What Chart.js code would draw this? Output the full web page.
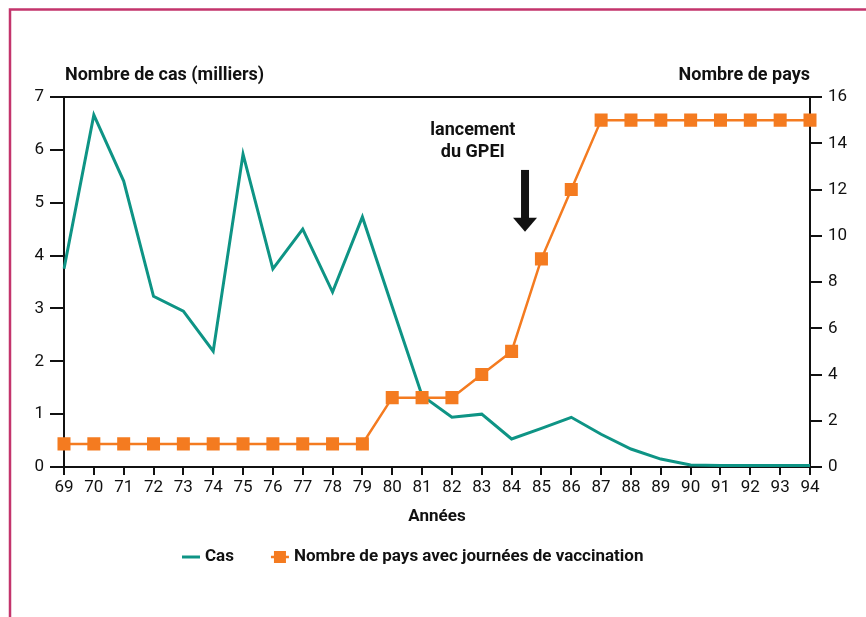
<!DOCTYPE html>
<html><head><meta charset="utf-8">
<script src="https://cdn.jsdelivr.net/npm/chart.js@4"></script>
<style>html,body{margin:0;padding:0;background:#fff}#wrap{position:relative;width:866px;height:617px}</style>
</head><body><div id="wrap"><canvas id="c" width="866" height="617"></canvas></div>
<script>
const years = ['69','70','71','72','73','74','75','76','77','78','79','80','81','82','83','84','85','86','87','88','89','90','91','92','93','94'];
const cas = [3.75,6.66,5.41,3.23,2.95,2.19,5.92,3.75,4.50,3.31,4.73,3.03,1.35,0.94,1.0,0.53,0.73,0.94,0.62,0.34,0.15,0.04,0.03,0.03,0.03,0.03];
const pays = [1,1,1,1,1,1,1,1,1,1,1,3,3,3,4,5,9,12,15,15,15,15,15,15,15,15];
const leftTicks = [0,1,2,3,4,5,6,7];
const rightTicks = [0,2,4,6,8,10,12,14,16];
const labels = {
  left: 'Nombre de cas (milliers)',
  right: 'Nombre de pays',
  x: 'Années',
  s1: 'Cas',
  s2: 'Nombre de pays avec journées de vaccination',
  note: ['lancement','du GPEI']
};
const noteAt = {x: 15.45, y: 5.62, yEnd: 4.45, textX: 13.7};

const TEAL = '#0e9485', ORANGE = '#f47b20', INK = '#111';
const FONT = 'Roboto, "DejaVu Sans", sans-serif';

const deco = {
  id: 'deco',
  beforeDraw(chart) {
    const c = chart.ctx;
    c.save();
    c.strokeStyle = '#c3346c';
    c.lineWidth = 2.5;
    c.beginPath();
    c.moveTo(10, 617); c.lineTo(10, 9.5); c.lineTo(866, 9.5);
    c.stroke();
    c.restore();
  },
  afterDraw(chart) {
    const c = chart.ctx, ca = chart.chartArea;
    const xs = chart.scales.x, ys = chart.scales.y;
    c.save();
    c.fillStyle = INK;
    c.font = 'bold 18px ' + FONT;
    c.textBaseline = 'middle';
    c.textAlign = 'left';
    c.fillText(labels.left, ca.left + 1, ca.top - 22);
    c.textAlign = 'right';
    c.fillText(labels.right, ca.right, ca.top - 22);
    // note
    const tx = xs.getPixelForValue(noteAt.textX);
    c.textAlign = 'center';
    c.fillText(labels.note[0], tx, ys.getPixelForValue(noteAt.y) - 39);
    c.fillText(labels.note[1], tx, ys.getPixelForValue(noteAt.y) - 17);
    // arrow
    const ax = xs.getPixelForValue(noteAt.x);
    const y0 = ys.getPixelForValue(noteAt.y), y1 = ys.getPixelForValue(noteAt.yEnd);
    c.fillRect(ax - 4, y0, 8, (y1 - y0) - 13);
    c.beginPath();
    c.moveTo(ax - 12, y1 - 14);
    c.lineTo(ax + 12, y1 - 14);
    c.lineTo(ax, y1);
    c.closePath();
    c.fill();

    // legend
    const ly = ca.bottom + 90;
    let lx = ca.left + 118;
    c.font = 'bold 17px ' + FONT;
    c.textAlign = 'left';
    chart.data.datasets.forEach((ds, i) => {
      c.strokeStyle = ds.borderColor;
      c.lineWidth = ds.borderWidth;
      c.beginPath();
      c.moveTo(lx, ly); c.lineTo(lx + 18, ly);
      c.stroke();
      if (ds.pointStyle === 'rect') {
        c.fillStyle = ds.backgroundColor;
        c.fillRect(lx + 9 - 6, ly - 6, 12, 12);
      }
      c.fillStyle = INK;
      c.fillText(ds.label, lx + 23, ly);
      lx += 23 + c.measureText(ds.label).width + 37;
    });
    c.restore();
  }
};

new Chart(document.getElementById('c'), {
  type: 'line',
  data: {
    labels: years,
    datasets: [
      {label: labels.s1, data: cas, yAxisID: 'y', borderColor: TEAL, backgroundColor: TEAL,
       borderWidth: 3, pointRadius: 0, pointStyle: 'line', tension: 0, order: 2},
      {label: labels.s2, data: pays, yAxisID: 'y1', borderColor: ORANGE, backgroundColor: ORANGE,
       borderWidth: 2.5, pointRadius: 9.2, pointHoverRadius: 9.2, pointStyle: 'rect', pointBorderWidth: 0, order: 1}
    ]
  },
  options: {
    responsive: false,
    animation: false,
    events: [],
    layout: {padding: {left: 14, right: 0, top: 97, bottom: 90}},
    plugins: {
      tooltip: {enabled: false},
      legend: {display: false}
    },
    scales: {
      x: {
        type: 'category',
        offset: false,
        afterFit(s) { s.height = 60; },
        border: {display: true, color: INK, width: 2},
        grid: {display: true, drawOnChartArea: false, drawTicks: true, tickLength: 8, tickColor: INK, tickWidth: 2, color: INK, lineWidth: 2},
        ticks: {color: INK, font: {family: FONT, size: 17}, padding: 3, maxRotation: 0, autoSkip: false},
        title: {display: true, text: labels.x, color: INK, font: {family: FONT, size: 17, weight: 'bold'}, padding: {top: 2, bottom: 0}}
      },
      y: {
        position: 'left', min: 0, max: 7,
        afterFit(s) { s.width = 50; },
        afterBuildTicks(s) { s.ticks = leftTicks.map(v => ({value: v})); },
        border: {display: true, color: INK, width: 2},
        grid: {drawOnChartArea: true, drawTicks: true, tickLength: 14, tickColor: INK, tickWidth: 2,
               color: ctx => (ctx.tick && ctx.tick.value === 7) ? INK : 'rgba(0,0,0,0)', lineWidth: 2},
        ticks: {color: INK, font: {family: FONT, size: 17}, padding: 6}
      },
      y1: {
        position: 'right', min: 0, max: 16,
        afterFit(s) { s.width = 56; },
        afterBuildTicks(s) { s.ticks = rightTicks.map(v => ({value: v})); },
        border: {display: true, color: INK, width: 2},
        grid: {drawOnChartArea: false, drawTicks: true, tickLength: 12, tickColor: INK, tickWidth: 2, color: INK, lineWidth: 2},
        ticks: {color: INK, font: {family: FONT, size: 17}, padding: 6}
      }
    }
  },
  plugins: [deco]
});
</script></body></html>
